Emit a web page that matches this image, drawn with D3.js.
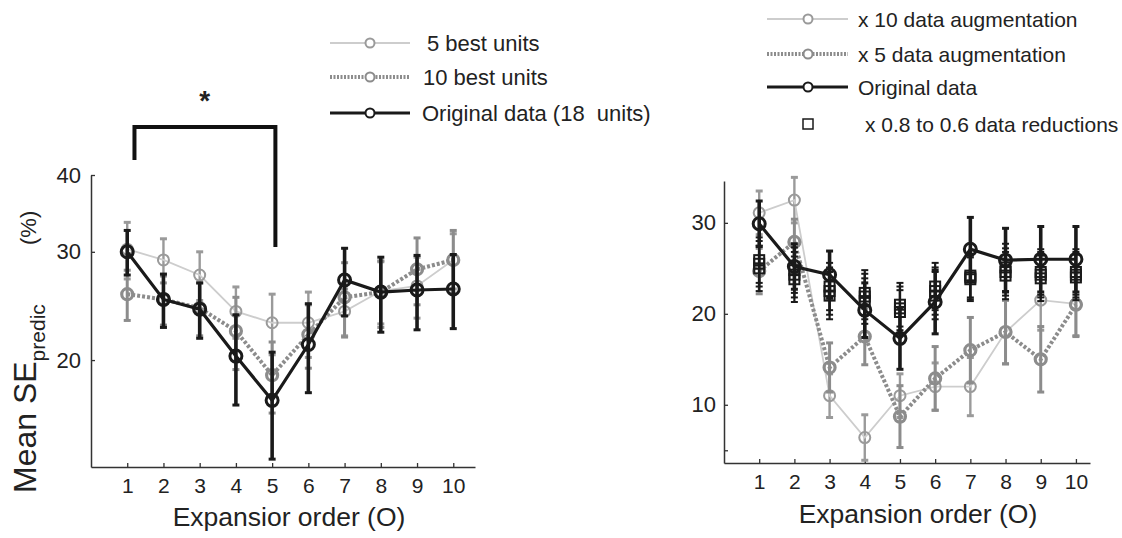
<!DOCTYPE html>
<html>
<head>
<meta charset="utf-8">
<script src="https://cdn.jsdelivr.net/npm/d3@7"></script>
<style>
body { margin: 0; background: #fff; }
text { font-family: "Liberation Sans", Arial, sans-serif; fill: #222; }
</style>
</head>
<body>
<svg id="chart" width="1122" height="538"></svg>
<script>
// expansion orders (x)
var orders = [1, 2, 3, 4, 5, 6, 7, 8, 9, 10];

// left panel: number of units
var best5 = [30.3, 29.1, 27.5, 24.0, 23.0, 23.0, 24.0, 25.9, 26.4, 29.1];
var best5Err = [3.2, 2.4, 2.5, 2.3, 2.6, 2.8, 2.1, 3.0, 3.0, 3.0];
var best10 = [25.6, 25.1, 24.3, 22.3, 18.9, 22.0, 25.3, 25.8, 28.1, 29.1];
var best10Err = [2.4, 2.3, 2.4, 3.0, 2.5, 2.6, 3.5, 3.2, 3.5, 3.4];
var orig18 = [30.0, 25.1, 24.2, 20.3, 17.2, 21.2, 27.0, 25.8, 26.0, 26.1];
var orig18Err = [2.5, 2.5, 2.5, 3.4, 3.4, 3.5, 3.4, 3.6, 3.6, 3.6];
var leftTicks = [20, 30, 40];

// right panel: data augmentation / reduction
var aug10 = [31.1, 32.5, 11.0, 6.4, 11.0, 12.0, 12.0, 18.0, 21.5, 21.1];
var aug10Err = [2.4, 2.5, 2.4, 2.5, 2.4, 2.6, 3.2, 3.5, 3.3, 3.5];
var aug5 = [24.7, 27.9, 14.1, 17.5, 8.7, 12.9, 16.0, 18.0, 15.0, 21.0];
var aug5Err = [2.5, 2.5, 2.7, 3.1, 3.4, 3.5, 3.6, 3.5, 3.6, 3.5];
var origR = [29.9, 25.2, 24.3, 20.4, 17.3, 21.3, 27.1, 25.9, 26.0, 26.0];
var origRErr = [2.5, 2.5, 2.6, 3.0, 3.4, 3.5, 3.5, 3.5, 3.6, 3.6];
var red08 = [25.9, 24.8, 23.0, 22.3, 21.0, 23.0, 24.2, 25.1, 24.6, 24.6];
var red07 = [25.5, 24.3, 22.5, 21.9, 20.6, 22.5, 24.0, 24.6, 24.3, 24.3];
var red06 = [25.0, 23.8, 22.0, 21.4, 20.2, 22.0, 23.8, 24.2, 23.9, 24.0];
var redErr = [2.5, 2.5, 2.6, 2.5, 2.4, 2.6, 2.4, 2.6, 2.5, 2.5];
var rightTicks = [5, 10, 20, 30];

var svg = d3.select("#chart");

var lightStyle = { line: "#cdcdcd", lw: 1.8, dash: null, m: "#9a9a9a", mw: 2, r: 5.5, e: "#9a9a9a", ew: 2.4 };
var grayStyle = { line: "#8c8c8c", lw: 4, dash: "3,2", m: "#8c8c8c", mw: 3.2, r: 5.5, e: "#8c8c8c", ew: 3 };
var blackStyle = { line: "#1a1a1a", lw: 3.2, dash: null, m: "#1a1a1a", mw: 3, r: 6, e: "#1a1a1a", ew: 3.6 };

function drawSeries(g, x, y, vals, errs, s) {
  var pts = orders.map(function(o, i) { return { o: o, v: vals[i], e: errs[i] }; });
  var eb = g.append("g");
  eb.selectAll("line.bar").data(pts).enter().append("line")
    .attr("x1", function(d) { return x(d.o); })
    .attr("x2", function(d) { return x(d.o); })
    .attr("y1", function(d) { return y(d.v + d.e); })
    .attr("y2", function(d) { return y(d.v - d.e); })
    .attr("stroke", s.e).attr("stroke-width", s.ew);
  [1, -1].forEach(function(sign) {
    eb.selectAll(null).data(pts).enter().append("line")
      .attr("x1", function(d) { return x(d.o) - 3.5; })
      .attr("x2", function(d) { return x(d.o) + 3.5; })
      .attr("y1", function(d) { return y(d.v + sign * d.e); })
      .attr("y2", function(d) { return y(d.v + sign * d.e); })
      .attr("stroke", s.e).attr("stroke-width", 3);
  });
  g.append("path").datum(pts)
    .attr("d", d3.line().x(function(d) { return x(d.o); }).y(function(d) { return y(d.v); }))
    .attr("fill", "none").attr("stroke", s.line).attr("stroke-width", s.lw)
    .attr("stroke-dasharray", s.dash);
  g.selectAll(null).data(pts).enter().append("circle")
    .attr("cx", function(d) { return x(d.o); })
    .attr("cy", function(d) { return y(d.v); })
    .attr("r", s.r).attr("fill", "none")
    .attr("stroke", s.m).attr("stroke-width", s.mw);
}

function drawSquares(g, x, y, vals, errs) {
  var pts = orders.map(function(o, i) { return { o: o, v: vals[i], e: errs[i] }; });
  g.selectAll(null).data(pts).enter().append("line")
    .attr("x1", function(d) { return x(d.o); })
    .attr("x2", function(d) { return x(d.o); })
    .attr("y1", function(d) { return y(d.v + d.e); })
    .attr("y2", function(d) { return y(d.v - d.e); })
    .attr("stroke", "#1a1a1a").attr("stroke-width", 2.2);
  [1, -1].forEach(function(sign) {
    g.selectAll(null).data(pts).enter().append("line")
      .attr("x1", function(d) { return x(d.o) - 3.5; })
      .attr("x2", function(d) { return x(d.o) + 3.5; })
      .attr("y1", function(d) { return y(d.v + sign * d.e); })
      .attr("y2", function(d) { return y(d.v + sign * d.e); })
      .attr("stroke", "#1a1a1a").attr("stroke-width", 2);
  });
  g.selectAll(null).data(pts).enter().append("rect")
    .attr("x", function(d) { return x(d.o) - 5; })
    .attr("y", function(d) { return y(d.v) - 5; })
    .attr("width", 10).attr("height", 10)
    .attr("fill", "none").attr("stroke", "#1a1a1a").attr("stroke-width", 2);
}

function styleAxis(g) {
  g.select(".domain").attr("stroke", "#333").attr("stroke-width", 1.5);
  g.selectAll(".tick line").attr("stroke", "#333").attr("stroke-width", 1.3);
  g.selectAll(".tick text").attr("fill", "#222").style("font-family", "Liberation Sans, Arial, sans-serif");
}

// ---------- left panel ----------
var xL = d3.scaleLinear().domain([0, 10.6]).range([91, 475]);
var yL = d3.scaleLog().domain([13.4, 40]).range([467, 175]);

var gL = svg.append("g");
gL.append("g").attr("transform", "translate(0,467)")
  .call(d3.axisBottom(xL).tickValues(orders).tickSizeInner(-4).tickSizeOuter(0).tickPadding(11).tickFormat(d3.format("d")))
  .call(styleAxis).selectAll(".tick text").style("font-size", "21px");
gL.append("g").attr("transform", "translate(91,0)")
  .call(d3.axisLeft(yL).tickValues(leftTicks).tickSizeInner(-4).tickSizeOuter(0).tickPadding(10).tickFormat(d3.format("d")))
  .call(styleAxis).selectAll(".tick text").style("font-size", "22px");

drawSeries(gL, xL, yL, best5, best5Err, lightStyle);
drawSeries(gL, xL, yL, best10, best10Err, grayStyle);
drawSeries(gL, xL, yL, orig18, orig18Err, blackStyle);

// significance bracket
gL.append("path")
  .attr("d", "M" + xL(1.2) + ",160V127H" + xL(5.09) + "V247")
  .attr("fill", "none").attr("stroke", "#111").attr("stroke-width", 4);
gL.append("text").attr("x", xL(3.14)).attr("y", 110).attr("text-anchor", "middle")
  .style("font-size", "28px").style("font-weight", "bold").text("*");

// axis titles
gL.append("text").attr("x", 289).attr("y", 526).attr("text-anchor", "middle")
  .style("font-size", "26.5px").text("Expansior order (O)");
var yt = gL.append("text").attr("transform", "translate(36,493) rotate(-90)")
  .style("font-size", "32px");
yt.append("tspan").text("Mean SE");
yt.append("tspan").attr("dy", 9).style("font-size", "21px").text("predic");
gL.append("text").attr("transform", "translate(36,245) rotate(-90)")
  .style("font-size", "22px").text("(%)");

// left legend
var legL = [
  { label: "5 best units", s: lightStyle, y: 43, tx: 427 },
  { label: "10 best units", s: grayStyle, y: 77, tx: 423 },
  { label: "Original data (18  units)", s: blackStyle, y: 113, tx: 422 }
];
legL.forEach(function(d) {
  gL.append("line").attr("x1", 330).attr("x2", 410).attr("y1", d.y).attr("y2", d.y)
    .attr("stroke", d.s.line).attr("stroke-width", d.s.lw).attr("stroke-dasharray", d.s.dash ? "2,1.5" : null);
  gL.append("circle").attr("cx", 370).attr("cy", d.y).attr("r", 4.5)
    .attr("fill", "#fff").attr("stroke", d.s.m).attr("stroke-width", 2);
  gL.append("text").attr("x", d.tx).attr("y", d.y + 8).style("font-size", "22px").style("white-space", "pre")
    .text(d.label);
});

// ---------- right panel ----------
var xR = d3.scaleLinear().domain([0, 10.4]).range([724, 1090]);
var yR = d3.scaleLinear().domain([3.6, 34.6]).range([463, 181]);

var gR = svg.append("g");
gR.append("g").attr("transform", "translate(0,463)")
  .call(d3.axisBottom(xR).tickValues(orders).tickSizeInner(-4).tickSizeOuter(0).tickPadding(11).tickFormat(d3.format("d")))
  .call(styleAxis).selectAll(".tick text").style("font-size", "21px");
gR.append("g").attr("transform", "translate(724,0)")
  .call(d3.axisLeft(yR).tickValues(rightTicks).tickSizeInner(-4).tickSizeOuter(0).tickPadding(8)
    .tickFormat(function(d) { return d === 5 ? "" : d; }))
  .call(styleAxis).selectAll(".tick text").style("font-size", "22px");

drawSeries(gR, xR, yR, aug10, aug10Err, lightStyle);
drawSeries(gR, xR, yR, aug5, aug5Err, grayStyle);
drawSquares(gR, xR, yR, red08, redErr);
drawSquares(gR, xR, yR, red07, redErr);
drawSquares(gR, xR, yR, red06, redErr);
drawSeries(gR, xR, yR, origR, origRErr, blackStyle);

gR.append("text").attr("x", 918).attr("y", 523).attr("text-anchor", "middle")
  .style("font-size", "26.5px").text("Expansion order (O)");

// right legend
var legR = [
  { label: "x 10 data augmentation", s: lightStyle, y: 19 },
  { label: "x 5 data augmentation", s: grayStyle, y: 54 },
  { label: "Original data", s: blackStyle, y: 87 }
];
legR.forEach(function(d) {
  gR.append("line").attr("x1", 767).attr("x2", 848).attr("y1", d.y).attr("y2", d.y)
    .attr("stroke", d.s.line).attr("stroke-width", d.s.lw).attr("stroke-dasharray", d.s.dash ? "2,1.5" : null);
  gR.append("circle").attr("cx", 808).attr("cy", d.y).attr("r", 4.5)
    .attr("fill", "#fff").attr("stroke", d.s.m).attr("stroke-width", 2);
  gR.append("text").attr("x", 858).attr("y", d.y + 8).style("font-size", "21px").text(d.label);
});
gR.append("rect").attr("x", 803).attr("y", 119).attr("width", 10).attr("height", 10)
  .attr("fill", "none").attr("stroke", "#1a1a1a").attr("stroke-width", 1.5);
gR.append("text").attr("x", 865).attr("y", 132).style("font-size", "21px").text("x 0.8 to 0.6 data reductions");
</script>
</body>
</html>
